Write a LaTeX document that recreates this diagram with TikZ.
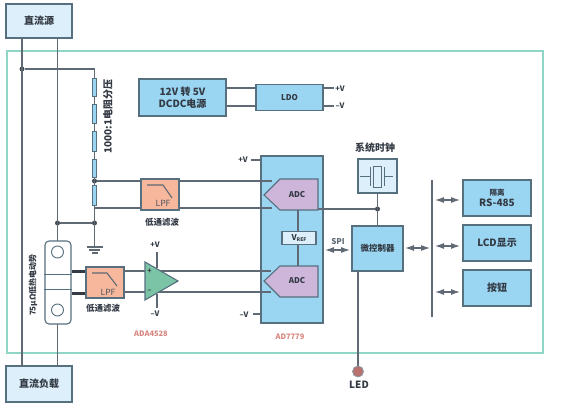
\documentclass[tikz,border=0pt]{standalone}
\usepackage{fontspec}
\setmainfont{Noto Sans CJK SC}
\usetikzlibrary{arrows.meta,calc}
\definecolor{ln}{HTML}{5F6A74}
\definecolor{edge}{HTML}{56707F}
\definecolor{pale}{HTML}{DCEFFA}
\definecolor{mid}{HTML}{9AD5F1}
\definecolor{lpfc}{HTML}{F6B79D}
\definecolor{adcc}{HTML}{CDB6DA}
\definecolor{amp}{HTML}{7CC4A6}
\definecolor{frame}{HTML}{8FD6C6}
\definecolor{txt}{HTML}{333A44}
\definecolor{redt}{HTML}{D9857F}
\tikzset{
  wire/.style={draw=ln,line width=1.1pt},
  box/.style={draw=edge,line width=1.1pt,inner sep=0pt,align=center,text=txt},
  palebox/.style={box,fill=pale},
  midbox/.style={box,fill=mid},
  lpfbox/.style={box,fill=lpfc,minimum width=38pt,minimum height=31pt},
  res/.style={draw=edge,fill=mid,line width=0.7pt,minimum width=4.5pt,inner sep=0pt},
  dotj/.style={circle,fill=ln!70!black,minimum size=5pt,inner sep=0pt},
  lab/.style={inner sep=0pt,text=txt,font=\fontsize{8}{9}\selectfont},
  blab/.style={inner sep=0pt,text=txt,font=\fontsize{8.5}{10}\bfseries\selectfont},
  big/.style={font=\fontsize{10}{12.5}\bfseries\selectfont},
  bidir/.style={draw=ln,line width=1.1pt,{Latex[length=9pt,width=6pt]}-{Latex[length=9pt,width=6pt]}},
  adcshape/.style={draw=edge,fill=adcc,line width=1.1pt},
}
\begin{document}
\begin{tikzpicture}[x=1pt,y=-1pt]
\useasboundingbox (0,0) rectangle (575,403);
\fill[white] (0,0) rectangle (575,403);
% frame
\draw[frame,line width=1.2pt] (7,51) rectangle (543,353);
% nodes
\node[palebox,big,minimum width=66pt,minimum height=34pt] (src) at (39,21) {直流源};
\node[palebox,big,minimum width=66pt,minimum height=36pt] (load) at (39,384) {直流负载};
\node[midbox,big,minimum width=87pt,minimum height=37pt] (dcdc) at (182.5,97.5) {12V 转 5V\\DCDC电源};
\node[midbox,minimum width=67pt,minimum height=26pt,font=\fontsize{8}{9}\bfseries\selectfont] (ldo) at (289.5,97.5) {LDO};
\node[midbox,minimum width=62pt,minimum height=167pt] (adcbox) at (292,239.5) {};
\node[midbox,minimum width=51pt,minimum height=45pt,font=\fontsize{8.5}{10}\bfseries\selectfont] (mcu) at (377.5,248.5) {微控制器};
\node[midbox,minimum width=68pt,minimum height=36pt] (iso) at (497,198) {{\fontsize{7.5}{10}\bfseries\selectfont 隔离}\\[-1pt]{\fontsize{10}{11}\bfseries\selectfont RS-485}};
\node[midbox,big,minimum width=68pt,minimum height=36pt] (lcd) at (497,243) {LCD显示};
\node[midbox,big,minimum width=68pt,minimum height=36pt] (btn) at (497,288) {按钮};
\node[palebox,minimum width=39pt,minimum height=34pt] (clk) at (377.5,176) {};
\node[palebox,minimum width=34pt,minimum height=12.5pt,fill=pale,font=\fontsize{8}{9}\bfseries\selectfont] (vref) at (299,238) {V\raisebox{-1.5pt}{\fontsize{5}{5}\bfseries\selectfont REF}};
\node[lpfbox] (lpfa) at (160,194.5) {};
\node[lpfbox] (lpfb) at (105,282.5) {};
\node[res,minimum height=18pt] (r1) at (94.5,87) {};
\node[res,minimum height=19pt] (r2) at (94.5,113.5) {};
\node[res,minimum height=20pt] (r3) at (94.5,141) {};
\node[res,minimum height=18pt] (r4) at (94.5,168) {};
\node[res,minimum height=20pt] (r5) at (94.5,195) {};
\node[dotj] (j1) at (22,69) {};
\node[dotj] (j2) at (94.5,181) {};
\node[dotj] (j3) at (94.5,223) {};
\node[dotj] (j4) at (57.5,223) {};
\node[dotj] (j5) at (377.5,209) {};
\coordinate (bendtop) at (94.5,69);
\coordinate (r5low) at (94.5,208);
\coordinate (gnd) at (94.5,247);
\coordinate (adcAtop) at (270,181);
\coordinate (adcAbot) at (270,208);
\coordinate (adcBtop) at (271,271);
\coordinate (adcBbot) at (271,292);
\coordinate (adcAright) at (318,209);
\coordinate (adcAbase) at (298,210);
\coordinate (adcBbase) at (298,266);
\coordinate (aout1) at (124,271);
\coordinate (aout2) at (124,292);
\coordinate (busT) at (432,180);
\coordinate (busB) at (432,317);
% shunt
\node[draw=edge,line width=1.1pt,fill=white,rounded corners=4pt,minimum width=26pt,minimum height=83pt,inner sep=0pt] (sh) at (58,282.5) {};
% wires
\draw[wire] (22,38) -- (22,366);
\draw[wire] (57.5,38) -- (57.5,241);
\draw[wire] (57.5,324) -- (57.5,366);
\draw[wire] (j1) -- (bendtop) -- (r1.north);
\draw[wire] (r1) -- (r2) -- (r3) -- (r4) -- (r5);
\draw[wire] (r5.south) -- (r5low) -- (lpfa.west |- r5low);
\draw[wire] (r5low) -- (gnd);
\draw[wire] (j4) -- (j3);
\draw[wire] (j2) -- (lpfa.west |- j2);
\draw[wire] (lpfa.east |- adcAtop) -- (adcAtop);
\draw[wire] (lpfa.east |- adcAbot) -- (adcAbot);
\draw[wire] (aout1) -- (adcBtop);
\draw[wire] (aout2) -- (adcBbot);
\draw[wire] (dcdc.east |- 0,88) -- (ldo.west |- 0,88);
\draw[wire] (dcdc.east |- 0,106) -- (ldo.west |- 0,106);
\draw[wire] (ldo.east |- 0,88) -- +(10,0);
\draw[wire] (ldo.east |- 0,106) -- +(10,0);
\draw[wire] (251,160) -- (adcbox.west |- 0,160);
\draw[wire] (253,314) -- (adcbox.west |- 0,314);
\draw[wire] (adcAright) -- (j5);
\draw[wire] (clk.south) -- (mcu.north -| clk.south);
\draw[wire] (mcu.south -| 358,0) -- (358,366);
\draw[wire] (busT) -- (busB);
% ground
\draw[wire] (86.5,247) -- (102.5,247);
\draw[wire] (89,250) -- (100,250);
\draw[wire] (91.5,253) -- (97.5,253);
% shunt inside
\draw[draw=edge,line width=0.9pt] (sh.west |- 0,274) -- (sh.east |- 0,274);
\draw[draw=edge,line width=0.9pt] (sh.west |- 0,289) -- (sh.east |- 0,289);
\node[circle,draw=edge,line width=0.9pt,minimum size=12pt,inner sep=0pt] (h1) at (57.5,252) {};
\node[circle,draw=edge,line width=0.9pt,minimum size=12pt,inner sep=0pt] (h2) at (57.5,310) {};
\draw[draw=txt,line width=3pt] (sh.east |- 0,271) -- (lpfb.west |- 0,271);
\draw[draw=txt,line width=3pt] (sh.east |- 0,293) -- (lpfb.west |- 0,293);
% LPF symbols
\draw[wire] (147,185) -- (163,185) -- (172,198);
\draw[wire] (92,273) -- (107,273) -- (117,286);
\node[lab,font=\fontsize{8.5}{9}\selectfont,text=ln!80!black] (la) at (163,203) {LPF};
\node[lab,font=\fontsize{8.5}{9}\selectfont,text=ln!80!black] (lb) at (108,292) {LPF};
% op amp
\draw[wire] (157,252) -- (157,268);
\draw[wire] (157,294) -- (157,308);
\draw[draw=edge,fill=amp,line width=1.1pt] (145,262) -- (178,281) -- (145,300) -- cycle;
\node[lab,font=\fontsize{7}{8}\bfseries\selectfont] (pl) at (149.5,271) {+};
\node[lab,font=\fontsize{7}{8}\bfseries\selectfont] (mi) at (149.5,291) {–};
% ADC
\draw[wire] (adcAbase) -- (vref.north -| adcAbase);
\draw[wire] (vref.south -| adcBbase) -- (adcBbase);
\draw[wire] (261,181) -- (272,181);
\draw[wire] (261,208) -- (272,208);
\draw[adcshape] (264,195) -- (280,179) -- (318,179) -- (318,210) -- (280,210) -- cycle;
\draw[adcshape] (264,281) -- (280,266) -- (318,266) -- (318,297) -- (280,297) -- cycle;
\node[lab,font=\fontsize{8}{9}\bfseries\selectfont] (adca) at (297,195) {ADC};
\node[lab,font=\fontsize{8}{9}\bfseries\selectfont] (adcb) at (297,281) {ADC};
% crystal
\draw[draw=edge,fill=pale,line width=0.9pt] (373,166) rectangle (381,187);
\draw[draw=edge,line width=0.9pt] (370,167) -- (370,186);
\draw[draw=edge,line width=0.9pt] (384,167) -- (384,186);
\draw[draw=edge,line width=0.8pt] (360,176) -- (370,176);
\draw[draw=edge,line width=0.8pt] (384,176) -- (393,176);
% bidirectional arrows
\draw[bidir] (325,250) -- (350,250);
\draw[bidir] (405,248) -- (430,248);
\draw[bidir] (435,200) -- (460,200);
\draw[bidir] (435,246) -- (460,246);
\draw[bidir] (435,292) -- (460,292);
% LED
\node[circle,draw=edge!70,fill=redt!85!black,minimum size=11pt,inner sep=0pt,line width=0.8pt] (led) at (358,371.5) {};
% labels
\node[lab,font=\fontsize{10}{12}\bfseries\selectfont] (tled) at (359,384.5) {LED};
\node[lab,font=\fontsize{10}{12}\bfseries\selectfont] (tclk) at (375,148) {系统时钟};
\node[lab,font=\fontsize{8}{9}\bfseries\selectfont,text=ln] (tspi) at (338,242) {SPI};
\node[lab,font=\fontsize{7.5}{9}\bfseries\selectfont] at (243,160) {+V};
\node[lab,font=\fontsize{7.5}{9}\bfseries\selectfont] at (244,314.5) {–V};
\node[lab,font=\fontsize{7.5}{9}\bfseries\selectfont] at (340,89) {+V};
\node[lab,font=\fontsize{7.5}{9}\bfseries\selectfont] at (340,105.5) {–V};
\node[lab,font=\fontsize{7.5}{9}\bfseries\selectfont] at (155,245) {+V};
\node[lab,font=\fontsize{7.5}{9}\bfseries\selectfont] at (155,314) {–V};
\node[blab] at (162,222.5) {低通滤波};
\node[blab] at (103,308) {低通滤波};
\node[lab,font=\fontsize{7.5}{9}\bfseries\selectfont,text=redt] at (151,333.5) {ADA4528};
\node[lab,font=\fontsize{7.5}{9}\bfseries\selectfont,text=redt] at (290,336.5) {AD7779};
\node[lab,rotate=90,font=\fontsize{10}{12}\bfseries\selectfont] at (108,116.5) {1000:1电阻分压};
\node[lab,rotate=90,font=\fontsize{8}{10}\bfseries\selectfont] at (33,285) {75μΩ低热电动势};
\end{tikzpicture}
\end{document}
